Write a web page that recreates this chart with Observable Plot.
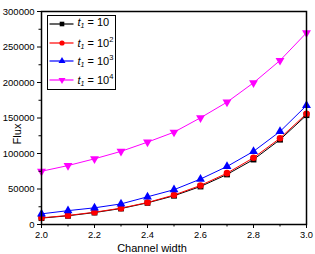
<!DOCTYPE html>
<html><head><meta charset="utf-8">
<script src="https://cdn.jsdelivr.net/npm/d3@7"></script>
<script src="https://cdn.jsdelivr.net/npm/@observablehq/plot@0.6"></script>
<style>
body{margin:0;background:#fff;font-family:"Liberation Sans",Arial,sans-serif;}
#wrap{position:relative;width:315px;height:254px;}
#legend{position:absolute;left:46.5px;top:14.5px;width:67px;height:73px;border:1.5px solid #000;background:#fff;font-size:11px;}
.row{position:absolute;left:0;height:14px;display:flex;align-items:center;}
.row svg{display:block}
.row span{margin-left:3px;white-space:nowrap;line-height:11px}
sub{font-size:7px;vertical-align:-2px}
sup{font-size:7.5px;vertical-align:5px}
#ylab{position:absolute;left:16.5px;top:133.5px;font-size:11px;line-height:11px;white-space:nowrap;transform:translate(-50%,-50%) rotate(-90deg);}
#xlab{position:absolute;left:152px;top:247.5px;font-size:11px;line-height:11px;white-space:nowrap;transform:translate(-50%,-50%);}
</style></head>
<body><div id="wrap"><div id="chart"></div><div id="ylab">Flux</div><div id="xlab">Channel width</div><div id="legend"></div></div>
<script>
const widths = [2.0, 2.1, 2.2, 2.3, 2.4, 2.5, 2.6, 2.7, 2.8, 2.9, 3.0];
const flux10 = [9000, 12300, 16800, 22500, 30500, 40500, 53500, 70500, 91500, 119500, 154000];
const flux100 = [9400, 12700, 17300, 23000, 31000, 41500, 55000, 72300, 94000, 121500, 156000];
const flux1000 = [15000, 19500, 23500, 29000, 39000, 49000, 64000, 81700, 103000, 131000, 167600];
const flux10000 = [75000, 83000, 92500, 103000, 116000, 130000, 150300, 172300, 199600, 231000, 270000];
const seriesNames = ["10", "10<sup>2</sup>", "10<sup>3</sup>", "10<sup>4</sup>"];
const seriesColors = ["#000000", "#ff0000", "#0000ff", "#ff00ff"];
const seriesSymbols = ["square", "circle", "triangle", "triangle"];
const seriesRotate = [0, 0, 0, 180];
const xTicks = [2.0, 2.2, 2.4, 2.6, 2.8, 3.0];
const xMinor = [2.1, 2.3, 2.5, 2.7, 2.9];
const yTicks = [0, 50000, 100000, 150000, 200000, 250000, 300000];
const yMinor = [25000, 75000, 125000, 175000, 225000, 275000];

const allSeries = [flux10, flux100, flux1000, flux10000];
const data = [];
allSeries.forEach((vals, s) => vals.forEach((v, i) => data.push({s, x: widths[i], y: v})));

const marks = [];
allSeries.forEach((vals, s) => {
  const d = data.filter(e => e.s === s);
  marks.push(Plot.line(d, {x: "x", y: "y", stroke: seriesColors[s], strokeWidth: 1}));
});
allSeries.forEach((vals, s) => {
  const d = data.filter(e => e.s === s);
  marks.push(Plot.dot(d, {x: "x", y: "y", symbol: () => seriesSymbols[s], fill: seriesColors[s], stroke: "none", r: 3.3, rotate: seriesRotate[s]}));
});

const chart = Plot.plot({
  width: 315, height: 254,
  marginLeft: 41, marginRight: 9, marginTop: 11, marginBottom: 30,
  style: {fontFamily: '"Liberation Sans",Arial,sans-serif', fontSize: "9.5px", color: "#000", background: "#fff"},
  x: {domain: [2.0, 3.0]},
  y: {domain: [0, 300000]},
  symbol: {type: "identity"},
  marks: [
    ...marks,
    Plot.axisX({ticks: xTicks, tickSize: 4, tickPadding: 2.5, tickFormat: d3.format(".1f"), label: null, fontSize: 9.3}),
    Plot.axisX({ticks: xMinor, tickSize: 2.5, text: null, label: null}),
    Plot.axisY({ticks: yTicks, tickSize: 4, tickPadding: 3, tickFormat: d => String(d), label: null, fontSize: 9.5}),
    Plot.axisY({ticks: yMinor, tickSize: 2.5, text: null, label: null}),
    Plot.frame({stroke: "#000", strokeWidth: 1.5})
  ]
});
document.getElementById("chart").appendChild(chart);

const legend = document.getElementById("legend");
const rowTops = [1.7, 20, 38.7, 57.3];
seriesNames.forEach((name, s) => {
  const row = document.createElement("div");
  row.className = "row";
  row.style.top = rowTops[s] + "px";
  const sym = d3.symbol(seriesSymbols[s] === "square" ? d3.symbolSquare : seriesSymbols[s] === "circle" ? d3.symbolCircle : d3.symbolTriangle, Math.PI * 2.6 * 2.6)();
  row.innerHTML = `<svg width="27" height="14"><line x1="1.5" x2="25.5" y1="7" y2="7" stroke="${seriesColors[s]}" stroke-width="1.2"/><path d="${sym}" transform="translate(14,7) rotate(${seriesRotate[s]})" fill="${seriesColors[s]}"/></svg><span><i>t<sub>1</sub></i> = ${name}</span>`;
  legend.appendChild(row);
});
</script></body></html>
